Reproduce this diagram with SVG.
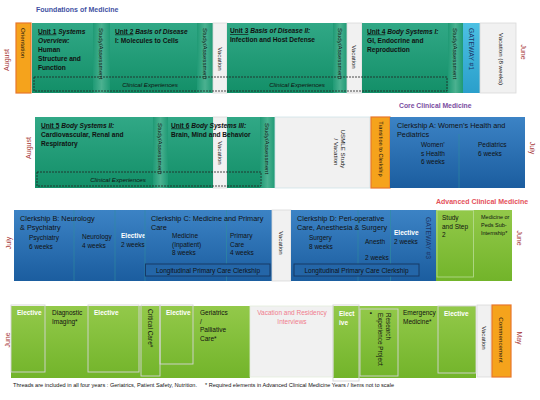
<svg xmlns="http://www.w3.org/2000/svg" width="540" height="400" viewBox="0 0 540 400">
<defs>
<linearGradient id="gG" x1="0" y1="0" x2="0" y2="1"><stop offset="0" stop-color="#31a886"/><stop offset="1" stop-color="#138f68"/></linearGradient>
<linearGradient id="gS" x1="0" y1="0" x2="1" y2="0"><stop offset="0" stop-color="#1f9a75"/><stop offset="0.5" stop-color="#4bb190"/><stop offset="1" stop-color="#1f9a75"/></linearGradient>
<linearGradient id="gB" x1="0" y1="0" x2="0" y2="1"><stop offset="0" stop-color="#3c83c5"/><stop offset="1" stop-color="#1b5d9f"/></linearGradient>
<linearGradient id="gL" x1="0" y1="0" x2="0" y2="1"><stop offset="0" stop-color="#93c94a"/><stop offset="1" stop-color="#72b42a"/></linearGradient>
<linearGradient id="gC" x1="0" y1="0" x2="0" y2="1"><stop offset="0" stop-color="#4cc0e3"/><stop offset="1" stop-color="#2a9fcb"/></linearGradient>
</defs>
<style>
text{font-family:"Liberation Sans",Arial,sans-serif;fill:#111}
.t{font-size:6.6px;font-weight:bold}
.i{font-style:italic}
.u{text-decoration:underline}
.v{font-size:6.2px;dominant-baseline:central}
.vm{font-size:6.2px;dominant-baseline:central;text-anchor:middle}
.m{font-size:7px;fill:#a83a3a;dominant-baseline:central;text-anchor:middle}
.vac{fill:#f1f1f1;stroke:#d9d9d9;stroke-width:0.8}
.or{fill:#f5a31c;stroke:#e8772b;stroke-width:1.2}
.dash{fill:none;stroke:#222;stroke-width:0.8;stroke-dasharray:2 1}
.ce{font-size:6.2px;font-style:italic;text-anchor:middle}
.s{font-size:6.5px}
.h{font-size:7.3px}
.w{fill:#fff;font-weight:bold;font-size:6.5px}
.box{fill:none;stroke:#d4d4d4;stroke-width:0.9}
.sep{stroke:#2f8f9d;stroke-width:0.6}
.lg{fill:#2466a8;stroke:#173a66;stroke-width:1}
.gw{font-size:6.8px;fill:#1d3566;dominant-baseline:central}
</style>

<g id="headers">
<text x="36" y="11.5" style="font-size:7px;font-weight:bold;fill:#3f51a3">Foundations of Medicine</text>
<text x="399" y="108" style="font-size:6.8px;font-weight:bold;fill:#7a4d9f">Core Clinical Medicine</text>
<text x="436" y="204" style="font-size:7px;font-weight:bold;fill:#e4515a">Advanced Clinical Medicine</text>
</g>

<g id="months">
<text class="m" transform="translate(6,60) rotate(-90)">August</text>
<text class="m" transform="translate(523,52) rotate(90)">June</text>
<text class="m" transform="translate(28,148) rotate(-90)">August</text>
<text class="m" transform="translate(361,145) rotate(-90)">April</text>
<text class="m" transform="translate(532,148) rotate(90)">July</text>
<text class="m" transform="translate(8,243) rotate(-90)">July</text>
<text class="m" transform="translate(519,238) rotate(90)">June</text>
<text class="m" transform="translate(7,340) rotate(-90)">June</text>
<text class="m" transform="translate(519,338) rotate(90)">May</text>
</g>

<!-- Row 1 -->
<g id="orientation">
<rect class="or" x="16" y="23" width="15" height="70"/>
<text class="v" transform="translate(23.5,28) rotate(90)">Orientation</text>
</g>
<g id="unit1">
<rect x="32" y="23" width="61" height="70" fill="url(#gG)"/>
<text class="t" x="38" y="33.5"><tspan class="u">Unit 1</tspan> <tspan class="i">Systems</tspan></text>
<text class="t i" x="38" y="42.5">Overview:</text>
<text class="t" x="38" y="51.5">Human</text>
<text class="t" x="38" y="60.5">Structure and</text>
<text class="t" x="38" y="69.5">Function</text>
</g>
<g id="study1">
<rect x="93" y="23" width="17" height="70" fill="url(#gS)"/>
<text class="v" transform="translate(101.5,28) rotate(90)">Study/Assessment</text>
</g>
<g id="unit2">
<rect x="110" y="23" width="87" height="70" fill="url(#gG)"/>
<text class="t" x="115" y="33.5"><tspan class="u">Unit 2</tspan> <tspan class="i">Basis of Disease</tspan></text>
<text class="t" x="115" y="42.5">I: Molecules to Cells</text>
</g>
<g id="study2">
<rect x="197" y="23" width="16" height="70" fill="url(#gS)"/>
<text class="v" transform="translate(205,28) rotate(90)">Study/Assessment</text>
</g>
<g id="vac1">
<rect class="vac" x="213" y="23" width="14" height="70"/>
<text class="vm" transform="translate(220,59) rotate(90)">Vacation</text>
</g>
<g id="unit3">
<rect x="227" y="23" width="106" height="70" fill="url(#gG)"/>
<text class="t" x="230" y="33"><tspan class="u">Unit 3</tspan>  <tspan class="i">Basis of Disease II:</tspan></text>
<text class="t" x="230" y="41.5">Infection and Host Defense</text>
</g>
<g id="study3">
<rect x="333" y="23" width="14" height="70" fill="url(#gS)"/>
<text class="v" transform="translate(340,28) rotate(90)">Study/Assessment</text>
</g>
<g id="vac2">
<rect class="vac" x="347" y="23" width="15" height="70"/>
<text class="vm" transform="translate(354.5,57) rotate(90)">Vacation</text>
</g>
<g id="unit4">
<rect x="362" y="23" width="86" height="70" fill="url(#gG)"/>
<text class="t" x="367" y="33.5"><tspan class="u">Unit 4</tspan>  <tspan class="i">Body Systems I:</tspan></text>
<text class="t" x="367" y="42.5">GI, Endocrine and</text>
<text class="t" x="367" y="51.5">Reproduction</text>
</g>
<g id="study4">
<rect x="448" y="23" width="15" height="70" fill="url(#gS)"/>
<text class="v" transform="translate(455.5,28) rotate(90)">Study/Assessment</text>
</g>
<g id="gateway1">
<rect x="463" y="23" width="17" height="70" fill="url(#gC)"/>
<text class="gw" transform="translate(471.5,28) rotate(90)">GATEWAY #1</text>
</g>
<g id="vac8">
<rect class="vac" x="480" y="23" width="36" height="70"/>
<text class="v" transform="translate(501,33) rotate(90)">Vacation (8 weeks)</text>
</g>
<g id="clinical1">
<rect class="dash" x="34" y="77" width="413" height="14"/>
<text class="ce" x="150" y="87">Clinical Experiences</text>
<text class="ce" x="297" y="87">Clinical Experiences</text>
</g>

<!-- Row 2 -->
<g id="unit5">
<rect x="35" y="117" width="118" height="71" fill="url(#gG)"/>
<text class="t" x="41" y="127.5"><tspan class="u">Unit 5</tspan>  <tspan class="i">Body Systems II:</tspan></text>
<text class="t" x="41" y="136.5">Cardiovascular, Renal and</text>
<text class="t" x="41" y="145.5">Respiratory</text>
</g>
<g id="study5">
<rect x="153" y="117" width="15" height="71" fill="url(#gS)"/>
<text class="v" transform="translate(160.5,123) rotate(90)">Study/Assessment</text>
</g>
<g id="vac3">
<rect class="vac" x="213" y="117" width="14" height="71"/>
<text class="vm" transform="translate(220,153) rotate(90)">Vacation</text>
</g>
<g id="unit6">
<rect x="168" y="117" width="45" height="71" fill="url(#gG)"/>
<rect x="227" y="117" width="33" height="71" fill="url(#gG)"/>
<text class="t" x="171" y="127.5"><tspan class="u">Unit 6</tspan>  <tspan class="i">Body Systems III:</tspan></text>
<text class="t" x="171" y="136.5">Brain, Mind and Behavior</text>
</g>
<g id="study6">
<rect x="260" y="117" width="15" height="71" fill="url(#gS)"/>
<text class="v" transform="translate(267.5,123) rotate(90)">Study/Assessment</text>
</g>
<g id="usmle">
<rect x="275" y="117" width="95" height="71" fill="#f1f1f1" stroke="#cfe3e8" stroke-width="0.8"/>
<text class="vm" transform="translate(343,149) rotate(90)">USMLE Study</text>
<text class="vm" transform="translate(336,152) rotate(90)">/ Vacation</text>
</g>
<g id="transition">
<rect class="or" x="371" y="117" width="19" height="71"/>
<text class="vm" style="font-size:5.6px" transform="translate(380.5,149) rotate(90)">Transition to Clerkship</text>
</g>
<g id="clerkA">
<rect x="390" y="117" width="135" height="71" fill="url(#gB)"/>
<line class="sep" x1="459" y1="134" x2="459" y2="188"/>
<text class="h" x="397" y="128">Clerkship A: Women’s Health and</text>
<text class="h" x="397" y="137">Pediatrics</text>
<text class="s" x="421" y="147">Women’</text>
<text class="s" x="421" y="155.5">s Health</text>
<text class="s" x="421" y="164">6 weeks</text>
<text class="s" x="478" y="147">Pediatrics</text>
<text class="s" x="478" y="155.5">6 weeks</text>
</g>
<g id="clinical2">
<rect class="dash" x="37" y="172" width="224" height="14"/>
<text class="ce" x="118" y="182">Clinical Experiences</text>
</g>

<!-- Row 3 -->
<g id="clerkB">
<rect x="14" y="210" width="131" height="71" fill="url(#gB)"/>
<line class="sep" x1="74" y1="210" x2="74" y2="281"/>
<line class="sep" x1="115" y1="210" x2="115" y2="281"/>
<text class="h" x="20" y="221">Clerkship B: Neurology</text>
<text class="h" x="20" y="230">&amp; Psychiatry</text>
<text class="s" x="29" y="240">Psychiatry</text>
<text class="s" x="29" y="248.5">6 weeks</text>
<text class="s" x="82" y="239">Neurology</text>
<text class="s" x="82" y="247.5">4 weeks</text>
<text class="w" x="121" y="238">Elective</text>
<text class="s" x="121" y="246.5">2 weeks</text>
</g>
<g id="clerkC">
<rect x="145" y="210" width="127" height="71" fill="url(#gB)"/>
<line class="sep" x1="145" y1="210" x2="145" y2="281"/>
<line class="sep" x1="226.5" y1="210" x2="226.5" y2="281"/>
<text class="h" x="151" y="221">Clerkship C: Medicine and Primary</text>
<text class="h" x="151" y="230">Care</text>
<text class="s" x="172" y="238">Medicine</text>
<text class="s" x="172" y="246.5">(Inpatient)</text>
<text class="s" x="172" y="255">8 weeks</text>
<text class="s" x="230" y="238">Primary</text>
<text class="s" x="230" y="246.5">Care</text>
<text class="s" x="230" y="255">4 weeks</text>
<rect class="lg" x="145.5" y="264" width="124.5" height="12"/>
<text class="s" x="208" y="272.5" text-anchor="middle">Longitudinal Primary Care Clerkship</text>
</g>
<g id="vac4">
<rect class="vac" x="272" y="210" width="19" height="71"/>
<text class="vm" transform="translate(281.5,243) rotate(90)">Vacation</text>
</g>
<g id="clerkD">
<rect x="291" y="210" width="129" height="71" fill="url(#gB)"/>
<line class="sep" x1="358" y1="210" x2="358" y2="281"/>
<line class="sep" x1="390.5" y1="210" x2="390.5" y2="281"/>
<text class="h" x="297" y="221">Clerkship D: Peri-operative</text>
<text class="h" x="297" y="230">Care, Anesthesia &amp; Surgery</text>
<text class="s" x="309" y="240">Surgery</text>
<text class="s" x="309" y="248.5">8 weeks</text>
<text class="s" x="365" y="244">Anesth</text>
<text class="s" x="365" y="260">2 weeks</text>
<text class="w" x="394" y="235">Elective</text>
<text class="s" x="394" y="243.5">2 weeks</text>
<rect class="lg" x="294" y="264" width="125" height="12"/>
<text class="s" x="356.5" y="272.5" text-anchor="middle">Longitudinal Primary Care Clerkship</text>
</g>
<g id="gateway3">
<rect x="420" y="210" width="16" height="71" fill="url(#gB)"/>
<text class="gw" transform="translate(428,217) rotate(90)">GATEWAY #3</text>
</g>
<g id="step2">
<rect x="436" y="210" width="38" height="71" fill="url(#gL)"/>
<rect x="437" y="210.5" width="36.5" height="66.5" fill="none" stroke="#b9dc94" stroke-width="0.8"/>
<text class="s" x="442" y="220">Study</text>
<text class="s" x="442" y="228.5">and Step</text>
<text class="s" x="442" y="237">2</text>
</g>
<g id="subi">
<rect x="474" y="210" width="38" height="71" fill="url(#gL)"/>
<text style="font-size:5.5px" x="481" y="219">Medicine or</text>
<text style="font-size:5.5px" x="481" y="227">Peds Sub-</text>
<text style="font-size:5.5px" x="481" y="235">Internship*</text>
</g>

<!-- Row 4 -->
<g id="row4base">
<rect x="11" y="306" width="239" height="72" fill="url(#gL)"/>
<rect x="333" y="306" width="143" height="72" fill="url(#gL)"/>
</g>
<g id="elective1">
<rect class="box" x="11" y="305" width="34" height="67"/>
<text class="w" x="17" y="315">Elective</text>
</g>
<g id="diag">
<text class="s" x="52" y="315">Diagnostic</text>
<text class="s" x="52" y="323.5">Imaging*</text>
</g>
<g id="elective2">
<rect class="box" x="88" y="305" width="51" height="67"/>
<text class="w" x="94" y="315">Elective</text>
</g>
<g id="critical">
<rect class="box" x="141" y="305" width="19" height="71"/>
<text class="v" style="font-size:6.5px" transform="translate(150.5,309) rotate(90)">Critical Care*</text>
</g>
<g id="elective3">
<rect class="box" x="160" y="305" width="33" height="59"/>
<text class="w" x="166" y="315">Elective</text>
</g>
<g id="geri">
<text class="s" x="200" y="315">Geriatrics</text>
<text class="s" x="200" y="323.5">/</text>
<text class="s" x="200" y="332">Palliative</text>
<text class="s" x="200" y="340.5">Care*</text>
</g>
<g id="vacres">
<rect x="250" y="306" width="83" height="71" fill="#f1f1f1" stroke="#e4eedc" stroke-width="0.8"/>
<text class="s" x="292" y="315" text-anchor="middle" style="fill:#f07c8c">Vacation and Residency</text>
<text class="s" x="292" y="323.5" text-anchor="middle" style="fill:#f07c8c">Interviews</text>
</g>
<g id="elective4">
<rect class="box" x="333" y="305" width="26" height="76"/>
<text class="w" x="339" y="316">Elect</text>
<text class="w" x="339" y="324.5">ive</text>
</g>
<g id="research">
<rect class="box" x="360" y="309" width="38" height="67"/>
<text class="v" style="font-size:6.3px" transform="translate(371,312) rotate(90)">▪</text>
<text class="v" style="font-size:6.3px" transform="translate(388,313) rotate(90)">Research</text>
<text class="v" style="font-size:6.3px" transform="translate(380,313) rotate(90)">Experience Project</text>
</g>
<g id="emerg">
<text class="s" x="403" y="315">Emergency</text>
<text class="s" x="403" y="323.5">Medicine*</text>
</g>
<g id="elective5">
<rect class="box" x="438" y="306" width="38" height="67"/>
<text class="w" x="444" y="316">Elective</text>
</g>
<g id="vac5">
<rect class="vac" x="477" y="305" width="14" height="72"/>
<text class="vm" transform="translate(484,338) rotate(90)">Vacation</text>
</g>
<g id="commencement">
<rect class="or" x="492" y="305" width="19" height="72"/>
<text class="vm" transform="translate(501.5,340) rotate(90)">Commencement</text>
</g>

<g id="footer">
<text x="13" y="387" style="font-size:5.3px" textLength="184" lengthAdjust="spacingAndGlyphs">Threads are included in all four years : Geriatrics, Patient Safety, Nutrition.</text>
<text x="205" y="387" style="font-size:5.3px" textLength="189" lengthAdjust="spacingAndGlyphs">* Required elements in Advanced Clinical Medicine Years / Items not to scale</text>
</g>
<g id="connectors"/>
</svg>
